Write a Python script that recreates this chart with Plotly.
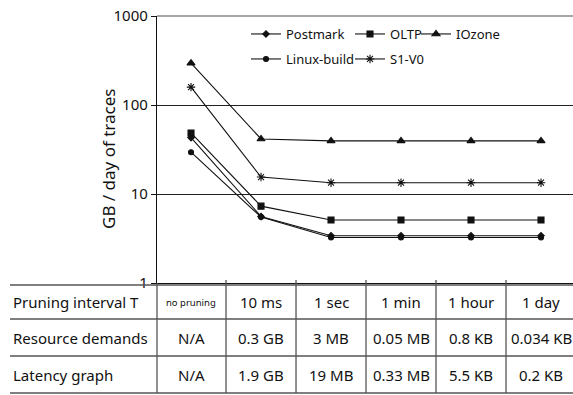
import plotly.graph_objects as go

intervals = ["no pruning", "10 ms", "1 sec", "1 min", "1 hour", "1 day"]
postmark = [43, 5.6, 3.4, 3.4, 3.4, 3.4]
oltp = [48.5, 7.3, 5.1, 5.1, 5.1, 5.1]
iozone = [295, 41.5, 39.5, 39.5, 39.5, 39.5]
linux_build = [29.5, 5.5, 3.25, 3.25, 3.25, 3.25]
s1v0 = [159, 15.5, 13.4, 13.4, 13.4, 13.4]

row_labels = ["Pruning interval T", "Resource demands", "Latency graph"]
resource = ["N/A", "0.3 GB", "3 MB", "0.05 MB", "0.8 KB", "0.034 KB"]
latency = ["N/A", "1.9 GB", "19 MB", "0.33 MB", "5.5 KB", "0.2 KB"]

FONT = "Noto Sans"
xs = list(range(len(intervals)))

W, H = 573, 395
L, R, T, B = 157, 0, 16, 112
pw, ph = W - L - R, H - T - B

def py(ypx):
    return (H - B - ypx) / ph

def px(xpx):
    return (xpx - L) / pw

fig = go.Figure()
# (name, values, symbol, size, legend id, legend left x px, legend y px)
series = [
    ("Postmark", postmark, "diamond", 5, "legend", 246, 34),
    ("OLTP", oltp, "square", 6, "legend2", 350, 34),
    ("IOzone", iozone, "triangle-up", 7, "legend3", 416, 34),
    ("Linux-build", linux_build, "circle", 5, "legend4", 246, 59),
    ("S1-V0", s1v0, "asterisk-open", 7, "legend5", 350, 59),
]
legends = {}
for name, vals, sym, sz, lg, lx, ly in series:
    fig.add_trace(go.Scatter(
        x=xs, y=vals, name=name, mode="lines+markers",
        line=dict(color="#111", width=1.1),
        marker=dict(symbol=sym, size=sz, color="#111", line=dict(color="#111", width=1.1)),
        legend=lg, showlegend=True,
    ))
    legends[lg] = dict(orientation="h", x=px(lx), y=py(ly), xanchor="left", yanchor="middle",
                       bgcolor="rgba(0,0,0,0)", font=dict(family=FONT, size=13, color="#111"),
                       itemwidth=30, visible=True)

shapes = []
shapes.append(dict(type="line", xref="paper", yref="paper", x0=0, x1=1, y0=1, y1=1,
                   line=dict(color="#888", width=1.5)))
for ypx in [285, 319, 356, 393]:
    shapes.append(dict(type="line", xref="paper", yref="paper", x0=px(10), x1=1,
                       y0=py(ypx), y1=py(ypx), line=dict(color="#555", width=1.3)))
shapes.append(dict(type="line", xref="paper", yref="paper", x0=0, x1=0,
                   y0=py(283), y1=py(393), line=dict(color="#555", width=1.3)))
for k in range(len(intervals) - 1):
    shapes.append(dict(type="line", xref="x", yref="paper", x0=k + 0.5, x1=k + 0.5,
                       y0=py(280), y1=py(393), line=dict(color="#555", width=1.3)))

annotations = []
annotations.append(dict(text="GB / day of traces", xref="paper", yref="paper",
                        x=px(108), y=py(159), xanchor="center", yanchor="middle",
                        textangle=-90, showarrow=False,
                        font=dict(family=FONT, size=17, color="#111")))
row_y = [py(302), py(337.5), py(374.5)]
for lab, yy in zip(row_labels, row_y):
    annotations.append(dict(text=lab, xref="paper", yref="paper", x=px(11), y=yy,
                            xanchor="left", yanchor="middle", showarrow=False,
                            font=dict(family=FONT, size=15, color="#111")))
for i, (a, b, c) in enumerate(zip(intervals, resource, latency)):
    for txt, yy, sz in [(a, row_y[0], 9.5 if i == 0 else 15), (b, row_y[1], 15), (c, row_y[2], 15)]:
        annotations.append(dict(text=txt, xref="x", yref="paper", x=i, y=yy,
                                xanchor="center", yanchor="middle", showarrow=False,
                                font=dict(family=FONT, size=sz, color="#111")))

fig.update_layout(
    width=W, height=H,
    margin=dict(l=L, r=R, t=T, b=B),
    paper_bgcolor="white", plot_bgcolor="white",
    font=dict(family=FONT, size=13, color="#111"),
    showlegend=True,
    shapes=shapes, annotations=annotations,
    xaxis=dict(range=[-0.486, 5.457], showticklabels=False, showgrid=False, zeroline=False,
               showline=True, linecolor="#111", linewidth=1.3, ticks=""),
    yaxis=dict(type="log", range=[0, 3], tickvals=[1, 10, 100, 1000],
               ticktext=["1", "10", "100", "1000"], showgrid=True, gridcolor="#222", gridwidth=1.2,
               showline=True, linecolor="#111", linewidth=1.3, ticks="outside", ticklen=5,
               tickcolor="#111", tickfont=dict(family=FONT, size=15, color="#111"), zeroline=False),
    **legends,
)

fig.write_html("out.html")
